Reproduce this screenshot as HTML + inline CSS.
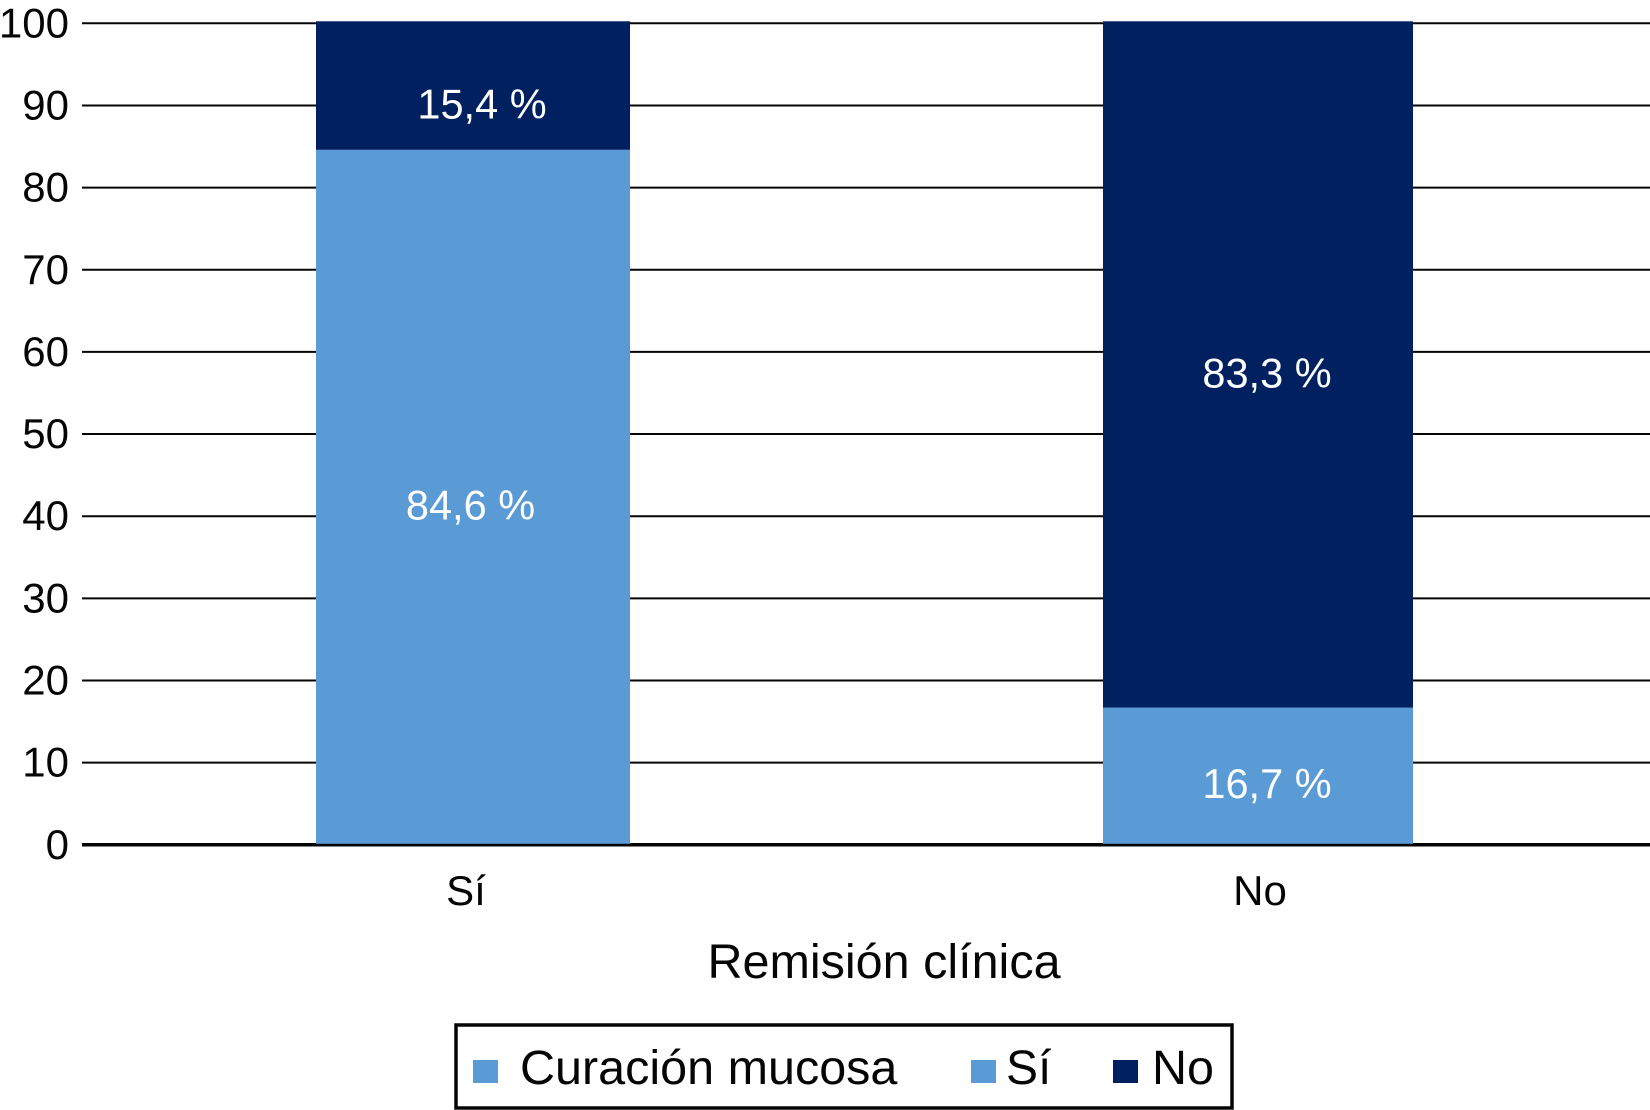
<!DOCTYPE html>
<html lang="es">
<head>
<meta charset="utf-8">
<title>Curación mucosa por remisión clínica</title>
<style>
html,body{margin:0;padding:0;background:#fff;width:1650px;height:1110px;overflow:hidden}
svg{display:block}
text{font-family:"Liberation Sans",Arial,sans-serif;fill:#050505}
</style>
</head>
<body>
<svg id="chart" width="1650" height="1110" viewBox="0 0 1650 1110" xmlns="http://www.w3.org/2000/svg">
  <g id="grid"></g>
  <g id="y-ticks"></g>
  <g id="bars"></g>
  <g id="x-ticks"></g>
  <text x="884" y="978" font-size="48.5" text-anchor="middle">Remisión clínica</text>
  <g>
    <rect x="456" y="1025" width="776" height="83" fill="#fff" stroke="#050505" stroke-width="3.5"/>
    <rect x="473" y="1060" width="25" height="23" fill="#5b9bd5"/>
    <text x="520" y="1084" font-size="48.5">Curación mucosa</text>
    <rect x="971" y="1060" width="25" height="23" fill="#5b9bd5"/>
    <text x="1006" y="1084" font-size="48">Sí</text>
    <rect x="1113" y="1060" width="25" height="23" fill="#002060"/>
    <text x="1152" y="1084" font-size="48.5">No</text>
  </g>
</svg>
<script>
const categories = ['Sí', 'No'];
const seriesSi = [84.6, 16.7];
const seriesNo = [15.4, 83.3];
const yTickValues = [0, 10, 20, 30, 40, 50, 60, 70, 80, 90, 100];

const NS = 'http://www.w3.org/2000/svg';
const yScale = v => 844.8 - v * 8.215;
const barLeft = i => [316, 1103][i];
const barWidth = i => [314, 310][i];
const tickCenter = i => [466, 1260][i];
const fmt = v => v.toFixed(1).replace('.', ',') + ' %';

function make(tag, attrs, parent, content) {
  const el = document.createElementNS(NS, tag);
  for (const k in attrs) el.setAttribute(k, attrs[k]);
  if (content !== undefined) el.textContent = content;
  parent.appendChild(el);
  return el;
}

const grid = document.getElementById('grid');
const yTicks = document.getElementById('y-ticks');
const bars = document.getElementById('bars');
const xTicks = document.getElementById('x-ticks');

yTickValues.forEach(v => {
  const line = make('line', {x1: 82, x2: 1650, y1: yScale(v), y2: yScale(v), stroke: '#050505', 'stroke-width': v === 0 ? 3.5 : 2}, grid);
  
  
  const label = make('text', {x: 69, y: yScale(v) + 14, 'font-size': 42, 'text-anchor': 'end'}, yTicks, String(v));
  
  
});

categories.forEach((cat, i) => {
  const x = barLeft(i), w = barWidth(i);
  const si = seriesSi[i], no = seriesNo[i];
  const siSeg = make('rect', {x: x, y: yScale(si), width: w, height: yScale(0) - yScale(si) - 1, fill: '#5b9bd5'}, bars);
  
  
  const noSeg = make('rect', {x: x, y: yScale(si + no) - 2, width: w, height: yScale(si) - yScale(si + no) + 2, fill: '#002060'}, bars);
  
  

  const cx = x + w / 2;
  const siLabel = make('text', {x: cx + (i === 0 ? -2.5 : 9), y: yScale(si / 2) + 22, 'font-size': 41.5, 'text-anchor': 'middle', style: 'fill:#fff'}, bars, fmt(si));
  
  
  const noLabel = make('text', {x: cx + 9, y: yScale(si + no / 2) + (i === 0 ? 32 : 22), 'font-size': 41.5, 'text-anchor': 'middle', style: 'fill:#fff'}, bars, fmt(no));
  
  

  const tick = make('text', {x: tickCenter(i), y: 905, 'font-size': 42, 'text-anchor': 'middle'}, xTicks, cat);
  
  
});
</script>
</body>
</html>
